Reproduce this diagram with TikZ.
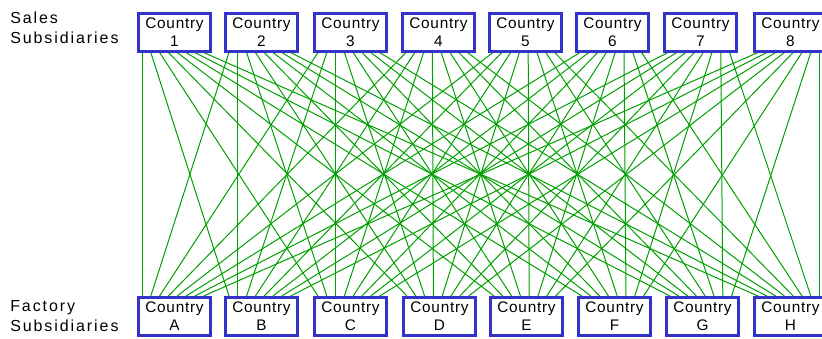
\documentclass[tikz,border=0pt]{standalone}
\usepackage{fontspec}
\setmainfont{Liberation Sans}[LetterSpace=5]
\newfontfamily\lblfont{Liberation Sans}[LetterSpace=12]
\usetikzlibrary{calc,backgrounds}
\definecolor{boxblue}{RGB}{51,51,204}
\definecolor{linkgreen}{RGB}{0,160,0}
\tikzset{
  cbox/.style={draw=boxblue, line width=2.25pt, fill=white, minimum width=54pt, minimum height=28.5pt,
    inner sep=0pt, align=center, font=\fontsize{11.5}{13.5}\selectfont},
  lbl/.style={anchor=base west, inner sep=0pt, font=\lblfont\fontsize{12}{14}\selectfont},
  link/.style={draw=linkgreen, line width=0.75pt}
}
\begin{document}
\begin{tikzpicture}[x=0.75pt,y=-0.75pt]
\useasboundingbox (0,0) rectangle (822,339);
\node[lbl] (sales) at (10,23) {Sales};
\node[lbl] (salessub) at (10,43) {Subsidiaries};
\node[lbl] (fact) at (10,311) {Factory};
\node[lbl] (factsub) at (10,331) {Subsidiaries};
\foreach \x [count=\i] in {174.5,261.5,350.5,438.5,525.5,612.5,700.5,790.5}
  \node[cbox] (t\i) at (\x,32) {Country\\\i};
\foreach \x/\l [count=\i] in {174.5/A,261.5/B,350.5/C,439.5/D,526.5/E,614.5/F,702.5/G,790.5/H}
  \node[cbox] (b\i) at (\x,316.5) {Country\\\l};
\begin{scope}[on background layer]
\foreach \i in {1,...,8}
  \foreach \j in {1,...,8}
    \draw[link] ($(t\i.south west)+({5+8.8*(\j-1)},0)$) -- ($(b\j.north west)+({5+8.8*(\i-1)},0)$);
\end{scope}
\end{tikzpicture}
\end{document}
